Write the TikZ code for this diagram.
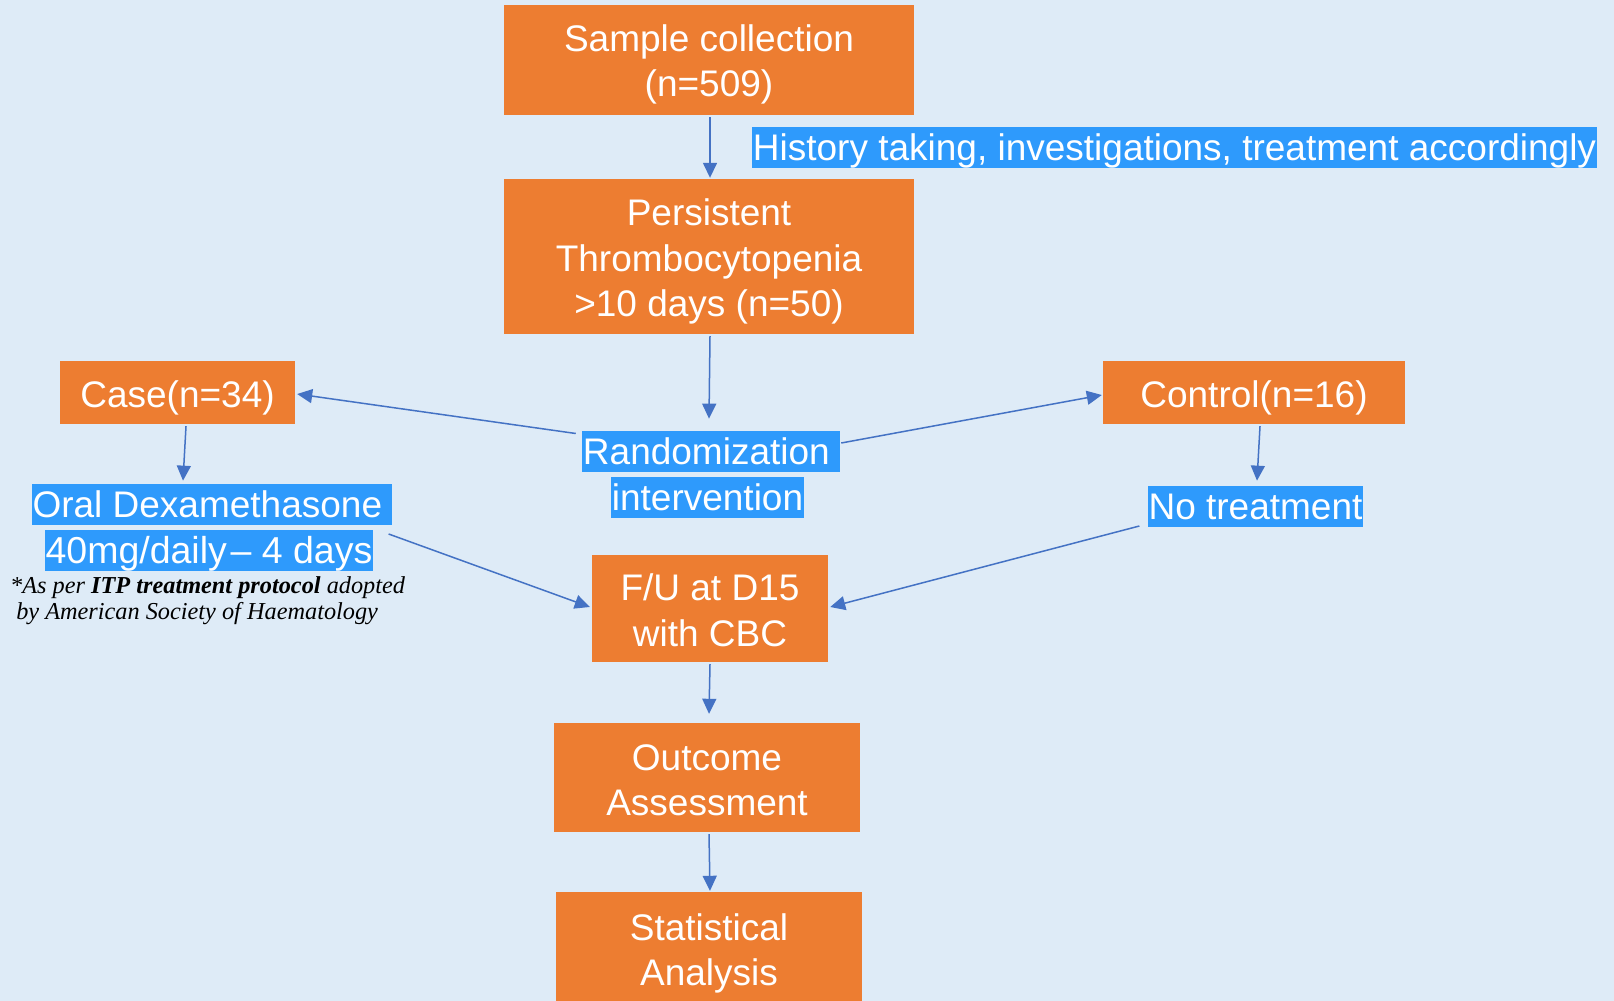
\documentclass[tikz,border=0pt]{standalone}
\usepackage{fontspec}
\setmainfont{Liberation Sans}
\newfontfamily\notefont{Liberation Serif}
\usetikzlibrary{arrows.meta,calc}
\definecolor{bgblue}{HTML}{DEEBF7}
\definecolor{boxorange}{HTML}{ED7D31}
\definecolor{hlblue}{RGB}{46,154,252}
\definecolor{arrblue}{HTML}{4472C4}
\newcommand\topst[1]{\rule{0pt}{#1pt}}
\newcommand\botstrut{\rule[-10pt]{0pt}{10pt}}
\tikzset{
  obox/.style={fill=boxorange, text=white, inner sep=0pt, align=center,
    font=\fontsize{37}{45.5}\selectfont},
  hl/.style={fill=hlblue, text=white, inner xsep=1pt, inner ysep=0pt,
    text height=33.5pt, text depth=7.8pt, font=\fontsize{37}{44.5}\selectfont},
  arr/.style={draw=arrblue, line width=1.5pt, -{Triangle[length=15pt,width=14pt]}}
}
\begin{document}
\begin{tikzpicture}[x=1pt,y=-1pt]
\fill[bgblue] (0,0) rectangle (1614,1001);
\useasboundingbox (0,0) rectangle (1614,1001);

\node[obox, minimum width=410pt, minimum height=110pt] (sample) at (709,60) {\topst{37.9}Sample collection\\(n=509)\botstrut};
\node[obox, minimum width=410pt, minimum height=155pt] (persist) at (709,256.5) {\topst{39.4}Persistent\\Thrombocytopenia\\>10 days (n=50)\botstrut};
\node[obox, minimum width=235pt, minimum height=63pt] (case) at (177.5,392.5) {\topst{39}Case(n=34)\botstrut};
\node[obox, minimum width=302pt, minimum height=63pt] (control) at (1254,392.5) {\topst{39.6}Control(n=16)\botstrut};
\node[obox, minimum width=236pt, minimum height=107pt] (fu) at (710,608.5) {\topst{39.9}F/U at D15\\with CBC\botstrut};
\node[obox, minimum width=306pt, minimum height=109pt] (outcome) at (707,777.5) {\topst{40.5}Outcome\\Assessment\botstrut};
\node[obox, minimum width=306pt, minimum height=109pt] (stat) at (709,946.5) {\topst{42.5}Statistical\\Analysis\botstrut};

\node[hl] (hist) at (1174.5,147.5) {History taking, investigations, treatment accordingly};
\node[hl] (rand1) at (711,451.5) {Randomization\kern0.25em};
\node[hl] (rand2) at (707.5,497.5) {intervention};
\node[hl] (oral1) at (212,504.5) {Oral Dexamethasone\kern0.25em};
\node[hl, font=\fontsize{37.5}{44.5}\selectfont] (oral2) at (209,550.5) {40mg/daily\kern0.1em-- 4 days};
\node[hl] (notreat) at (1255.5,506.5) {No treatment};

\node[anchor=north west, inner sep=0pt, align=left, font=\notefont\fontsize{24.3}{26.5}\selectfont\itshape] (note) at (10,576)
  {*As per \textbf{ITP treatment protocol} adopted\\\ by American Society of Haematology};

\draw[arr] ($(sample.south)+(1,2)$) -- ($(persist.north)+(1,-1)$);
\draw[arr] ($(persist.south)+(1,2)$) -- ($(rand1.north)+(-2,-12)$);
\draw[arr] ($(rand1.west)+(-6,-18)$) -- ($(case.east)+(2,1.5)$);
\draw[arr] ($(rand1.east)+(1,-8.5)$) -- ($(control.west)+(-1,2.5)$);
\draw[arr] ($(case.south)+(8.5,2)$) -- ($(oral1.north)+(-29,-3)$);
\draw[arr] ($(control.south)+(6,2)$) -- ($(notreat.north)+(1.5,-5)$);
\draw[arr] ($(oral2.east)+(15,-16.5)$) -- ($(fu.west)+(-2,-1.5)$);
\draw[arr] ($(notreat.west)+(-8,19.5)$) -- ($(fu.east)+(2,-1.5)$);
\draw[arr] ($(fu.south)+(0,2)$) -- ($(outcome.north)+(2,-9)$);
\draw[arr] ($(outcome.south)+(2,2)$) -- ($(stat.north)+(1,-1)$);
\end{tikzpicture}
\end{document}
